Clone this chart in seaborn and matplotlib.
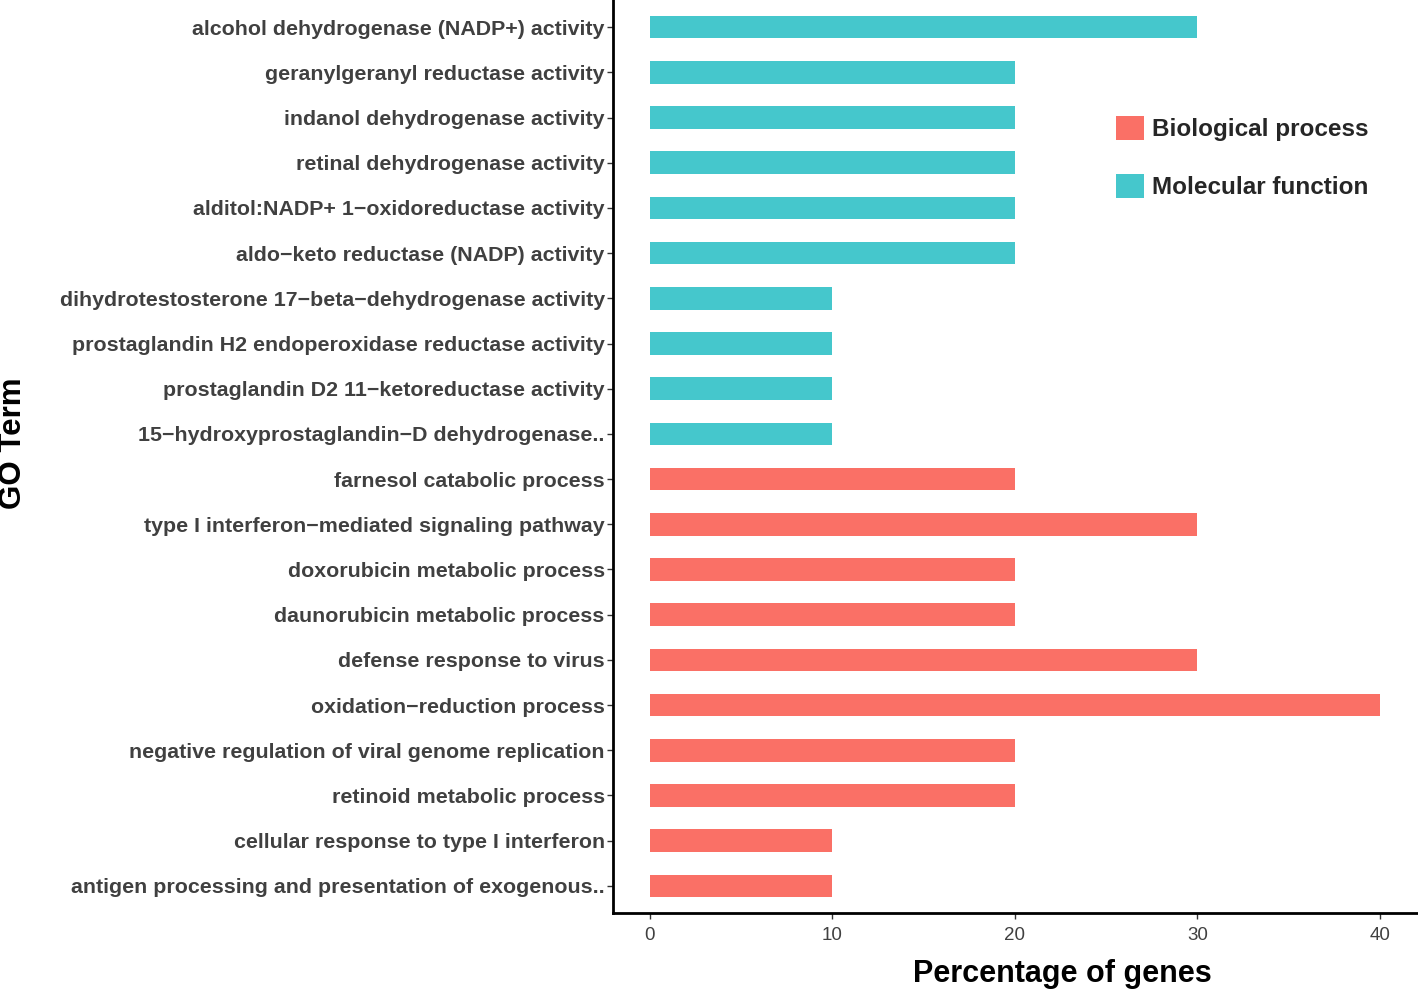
import pandas as pd
import matplotlib
matplotlib.use("Agg")
import matplotlib.pyplot as plt
import seaborn as sns
from matplotlib.patches import Patch

# GO terms, top to bottom
mf_terms = [
    "alcohol dehydrogenase (NADP+) activity",
    "geranylgeranyl reductase activity",
    "indanol dehydrogenase activity",
    "retinal dehydrogenase activity",
    "alditol:NADP+ 1\u2212oxidoreductase activity",
    "aldo\u2212keto reductase (NADP) activity",
    "dihydrotestosterone 17\u2212beta\u2212dehydrogenase activity",
    "prostaglandin H2 endoperoxidase reductase activity",
    "prostaglandin D2 11\u2212ketoreductase activity",
    "15\u2212hydroxyprostaglandin\u2212D dehydrogenase..",
]
mf_values = [30, 20, 20, 20, 20, 20, 10, 10, 10, 10]

bp_terms = [
    "farnesol catabolic process",
    "type I interferon\u2212mediated signaling pathway",
    "doxorubicin metabolic process",
    "daunorubicin metabolic process",
    "defense response to virus",
    "oxidation\u2212reduction process",
    "negative regulation of viral genome replication",
    "retinoid metabolic process",
    "cellular response to type I interferon",
    "antigen processing and presentation of exogenous..",
]
bp_values = [20, 30, 20, 20, 30, 40, 20, 20, 10, 10]

categories = ["Biological process", "Molecular function"]
colors = {"Biological process": "#FA7066", "Molecular function": "#45C7CC"}

df = pd.DataFrame({
    "term": mf_terms + bp_terms,
    "pct": mf_values + bp_values,
    "cat": ["Molecular function"] * len(mf_terms) + ["Biological process"] * len(bp_terms),
})

sns.set_style("white")
plt.rcParams["font.family"] = ["Liberation Sans", "DejaVu Sans"]

fig = plt.figure(figsize=(14.18, 9.9), dpi=100)
ax = fig.add_axes([613 / 1418, 77 / 990, 1 - 613 / 1418 - 0.001, 1 - 77 / 990])

sns.barplot(data=df, x="pct", y="term", hue="cat", hue_order=categories,
            palette=colors, orient="h", dodge=False, width=0.5, saturation=1,
            order=df["term"], legend=False, ax=ax, linewidth=0)

ax.set_xlim(-2, 42)
ax.set_ylim(len(df) - 0.4, -0.6)
ax.set_xticks([0, 10, 20, 30, 40])

for s in ["top", "right"]:
    ax.spines[s].set_visible(False)
for s in ["left", "bottom"]:
    ax.spines[s].set_color("black")
    ax.spines[s].set_linewidth(2)

ax.tick_params(axis="both", which="both", length=4, width=1, color="#333333",
               left=True, bottom=True)
ax.tick_params(axis="y", labelsize=15.4, labelcolor="#404040", pad=2)
ax.tick_params(axis="x", labelsize=13.5, labelcolor="#404040", pad=6)
for lbl in ax.get_yticklabels():
    lbl.set_fontweight("bold")

ax.set_xlabel("Percentage of genes", fontsize=22, fontweight="bold", color="black")
ax.set_ylabel("GO Term", fontsize=22.5, fontweight="bold", color="black")
ax.xaxis.set_label_coords(0.559, -0.050)
ax.yaxis.set_label_coords(-0.728, 0.515)

handles = [Patch(facecolor=colors[c], edgecolor="none") for c in categories]
fig.legend(handles, categories, loc="upper left",
           bbox_to_anchor=(1094 / 1418, 1 - 94 / 990), frameon=False,
           prop={"size": 17.5, "weight": "bold"}, handlelength=1.15,
           handleheight=1.15, labelspacing=1.35, handletextpad=0.35)

fig.savefig("out.png", dpi=100)
